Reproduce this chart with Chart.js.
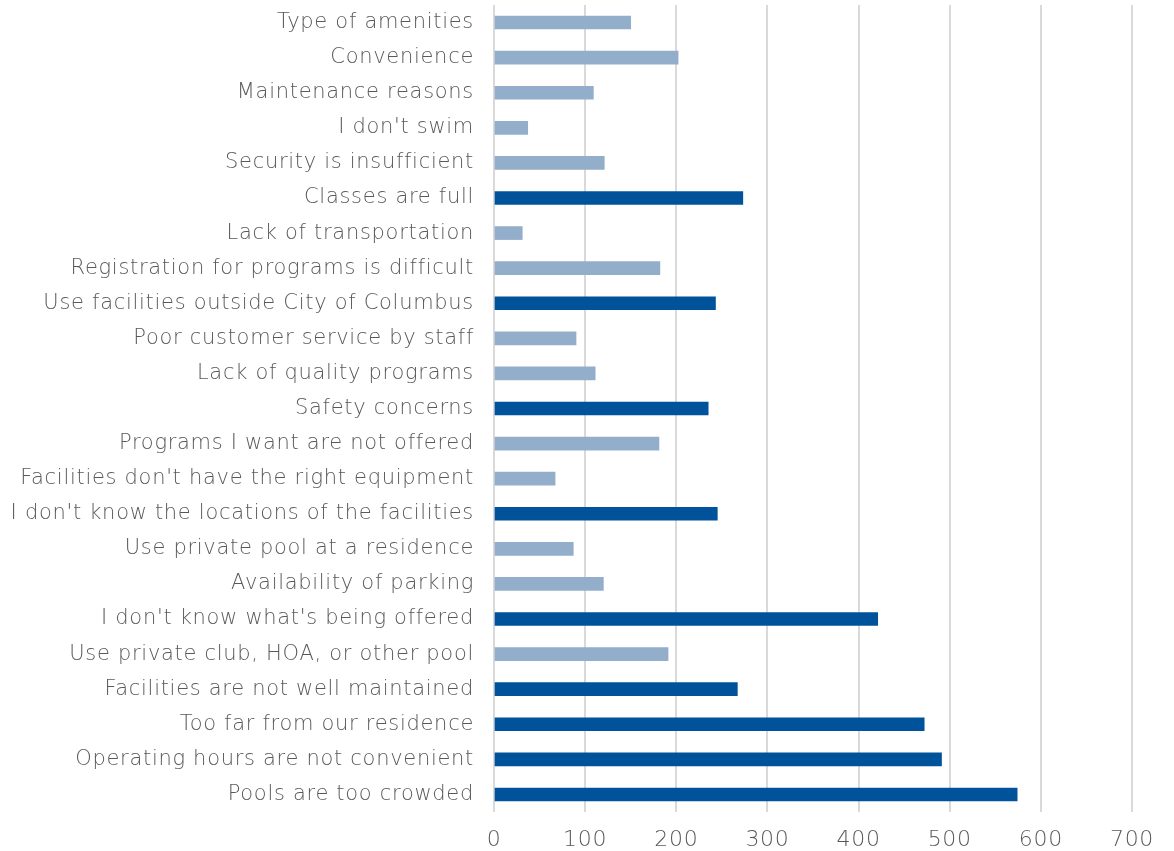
<!DOCTYPE html>
<html>
<head>
<meta charset="utf-8">
<script src="https://cdn.jsdelivr.net/npm/chart.js@4/dist/chart.umd.min.js"></script>
<style>
  html, body { margin: 0; padding: 0; background: #ffffff; }
  #wrap { position: relative; width: 1174px; height: 851px; }
</style>
</head>
<body>
<div id="wrap"><canvas id="chart"></canvas></div>
<script>
// Reasons for not using the pools, top to bottom
const categories = [
  "Type of amenities",
  "Convenience",
  "Maintenance reasons",
  "I don't swim",
  "Security is insufficient",
  "Classes are full",
  "Lack of transportation",
  "Registration for programs is difficult",
  "Use facilities outside City of Columbus",
  "Poor customer service by staff",
  "Lack of quality programs",
  "Safety concerns",
  "Programs I want are not offered",
  "Facilities don't have the right equipment",
  "I don't know the locations of the facilities",
  "Use private pool at a residence",
  "Availability of parking",
  "I don't know what's being offered",
  "Use private club, HOA, or other pool",
  "Facilities are not well maintained",
  "Too far from our residence",
  "Operating hours are not convenient",
  "Pools are too crowded"
];

// Number of responses for each reason
const responses = [
  150, 202, 109, 37, 121, 273, 31, 182, 243, 90, 111, 235,
  181, 67, 245, 87, 120, 421, 191, 267, 472, 491, 574
];

// Value-axis ticks
const tickValues = [0, 100, 200, 300, 400, 500, 600, 700];

// The nine most frequent reasons are drawn in the darker blue
const topCount = 9;
const cutoff = [...responses].sort((a, b) => b - a)[topCount - 1];
const barColors = responses.map(v => v >= cutoff ? '#00539b' : '#93aeca');

const textColor = '#595959';
const fontFamily = "'DejaVu Sans', sans-serif";

// Slightly wider tracking for all canvas text
const tracking = {
  id: 'tracking',
  beforeDraw(chart) { chart.ctx.letterSpacing = '0.7px'; }
};

new Chart(document.getElementById('chart'), {
  type: 'bar',
  data: {
    labels: categories,
    datasets: [{
      data: responses,
      backgroundColor: barColors,
      borderWidth: 0,
      barThickness: 13
    }]
  },
  plugins: [tracking],
  options: {
    indexAxis: 'y',
    responsive: true,
    maintainAspectRatio: false,
    animation: false,
    layout: { padding: { top: 5, right: 42, bottom: 0, left: 0 } },
    plugins: {
      legend: { display: false },
      tooltip: { enabled: false }
    },
    scales: {
      x: {
        min: 0,
        max: 700,
        afterBuildTicks: (scale) => { scale.ticks = tickValues.map(v => ({ value: v })); },
        grid: { color: '#d9d9d9', lineWidth: 2, drawTicks: false },
        border: { display: false },
        ticks: {
          color: textColor,
          font: { family: fontFamily, size: 22, weight: 200 },
          padding: 15
        },
        afterFit: (scale) => { scale.height = 39; }
      },
      y: {
        grid: { display: false, drawTicks: false },
        border: { display: false },
        ticks: {
          color: textColor,
          font: { family: fontFamily, size: 21, weight: 200 },
          padding: 20,
          autoSkip: false
        },
        afterFit: (scale) => {
          scale.width = 494;
          scale.paddingTop = 0;
          scale.paddingBottom = 0;
        }
      }
    }
  }
});
</script>
</body>
</html>
